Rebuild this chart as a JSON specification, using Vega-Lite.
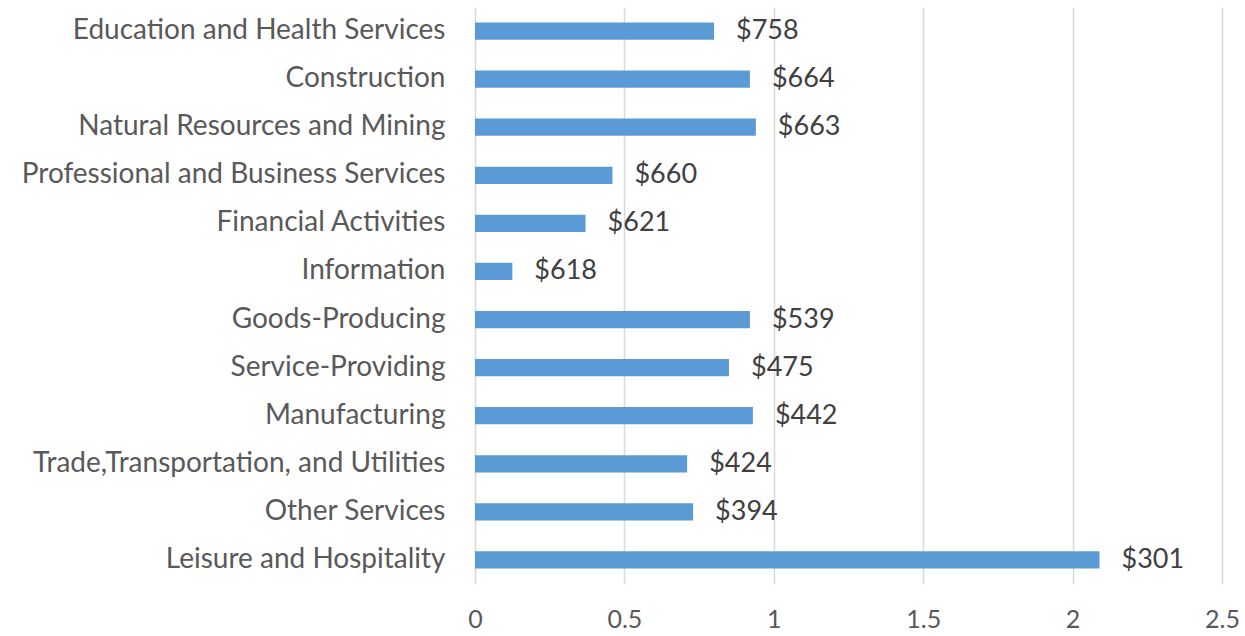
{
  "$schema": "https://vega.github.io/schema/vega-lite/v6.json",
  "autosize": {"type": "none"},
  "width": 747,
  "height": 577,
  "padding": {"left": 475, "top": 7, "right": 23, "bottom": 52},
  "background": "white",
  "config": {"view": {"stroke": null}},
  "data": {"values": [
    {"sector": "Education and Health Services", "value": 0.80, "label": "$758"},
    {"sector": "Construction", "value": 0.92, "label": "$664"},
    {"sector": "Natural Resources and Mining", "value": 0.94, "label": "$663"},
    {"sector": "Professional and Business Services", "value": 0.46, "label": "$660"},
    {"sector": "Financial Activities", "value": 0.37, "label": "$621"},
    {"sector": "Information", "value": 0.125, "label": "$618"},
    {"sector": "Goods-Producing", "value": 0.92, "label": "$539"},
    {"sector": "Service-Providing", "value": 0.85, "label": "$475"},
    {"sector": "Manufacturing", "value": 0.93, "label": "$442"},
    {"sector": "Trade,Transportation, and Utilities", "value": 0.71, "label": "$424"},
    {"sector": "Other Services", "value": 0.73, "label": "$394"},
    {"sector": "Leisure and Hospitality", "value": 2.09, "label": "$301"}
  ]},
  "encoding": {
    "y": {"field": "sector", "type": "nominal", "sort": null,
      "scale": {"paddingInner": 0.64, "paddingOuter": 0.32},
      "axis": {"title": null, "domain": false, "ticks": false, "labelPadding": 30,
        "labelFont": "Lato", "labelFontSize": 28, "labelColor": "#595959", "labelLimit": 600}},
    "x": {"field": "value", "type": "quantitative",
      "scale": {"domain": [0, 2.5], "nice": false},
      "axis": {"title": null, "domain": false, "ticks": false, "values": [0, 0.5, 1, 1.5, 2, 2.5],
        "format": "~g",
        "labelPadding": 23, "labelFont": "Lato", "labelFontSize": 25, "labelColor": "#595959",
        "gridColor": "#d9d9d9", "gridWidth": 1.5, "labelFlush": false}}
  },
  "layer": [
    {"mark": {"type": "bar", "color": "#5B9BD5"}},
    {"mark": {"type": "text", "align": "left", "dx": 22, "font": "Lato", "fontSize": 27, "color": "#404040"},
     "encoding": {"text": {"field": "label"}}}
  ]
}
